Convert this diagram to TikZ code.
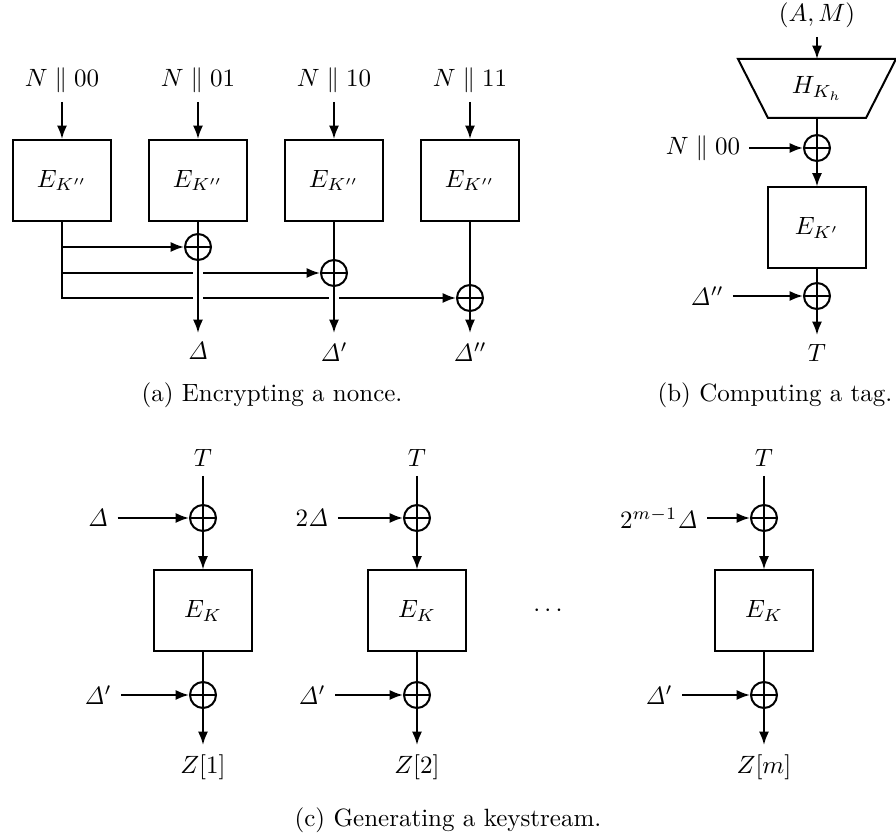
\documentclass[tikz,border=0pt]{standalone}
\usetikzlibrary{arrows.meta,calc}
\begin{document}
\begin{tikzpicture}[x=0.4pt,y=-0.4pt,
  line width=0.8pt, >={Latex[length=5.3pt,width=4pt]},
  blk/.style={draw, minimum width=39.2pt, minimum height=32.4pt, inner sep=0pt},
  xorc/.style={circle, draw, minimum size=10.4pt, inner sep=0pt,
    path picture={\draw (path picture bounding box.north) -- (path picture bounding box.south)
      (path picture bounding box.west) -- (path picture bounding box.east);}},
  lbl/.style={},
  captxt/.style={inner sep=0pt},
  gapline/.style={white, line width=4pt},
]
\useasboundingbox (0,0) rectangle (896,839);

% ---------- (a) ----------
\foreach \i/\x/\b in {1/62/00,2/198/01,3/334/10,4/470/11}{
  \node[lbl, anchor=south] (n\i) at (\x,102) {$N \parallel \b$};
  \node[blk] (e\i) at (\x,180.5) {$E_{K''}$};
  \draw[->] (n\i) -- (e\i);
}
\node[xorc] (x1) at (198,247) {};
\node[xorc] (x2) at (334,273) {};
\node[xorc] (x3) at (470,298) {};
\node[lbl, anchor=north] (d1) at (198,333) {$\mathit{\Delta}$};
\node[lbl, anchor=north] (d2) at (334,333) {$\mathit{\Delta}'$};
\node[lbl, anchor=north] (d3) at (470,333) {$\mathit{\Delta}''$};
\draw[->] (e1.south) |- (x1);
\draw[->] (e1.south) |- (x2);
\draw[->] (e1.south) |- (x3);
\draw (e2) -- (x1);
\draw (e3) -- (x2);
\draw (e4) -- (x3);
\draw[gapline, shorten <=2pt, shorten >=2pt] (x1) -- (d1);
\draw[gapline, shorten <=2pt, shorten >=2pt] (x2) -- (d2);
\draw[->] (x1) -- (d1);
\draw[->] (x2) -- (d2);
\draw[->] (x3) -- (d3);
\node[captxt] (ca) at (272,395) {(a) Encrypting a nonce.};

% ---------- (b) ----------
\node[lbl, anchor=south] (am) at (817,37) {$(A,M)$};
\node[minimum width=62.4pt, minimum height=22.8pt, inner sep=0pt] (H) at (817,88.5) {$H_{K_h}$};
\draw (H.north west) -- (H.north east) -- ($(H.south east)+(-30,0)$) -- ($(H.south west)+(30,0)$) -- cycle;
\draw[->] (am) -- (H.north);
\node[xorc] (xb1) at (817,148) {};
\node[blk] (eb) at (817,228) {$E_{K'}$};
\node[xorc] (xb2) at (817,296) {};
\node[lbl] (nb) at (703,148) {$N \parallel 00$};
\node[lbl] (db) at (707,296) {$\mathit{\Delta}''$};
\node[lbl, anchor=north] (tb) at (817,335) {$T$};
\draw[->] (nb) -- (xb1);
\draw[->] (db) -- (xb2);
\draw (H.south) -- (xb1);
\draw[->] (xb1) -- (eb);
\draw (eb) -- (xb2);
\draw[->] (xb2) -- (tb);
\node[captxt] (cb) at (775,395) {(b) Computing a tag.};

% ---------- (c) ----------
\foreach \i/\x/\l/\z in {1/203/{\mathit{\Delta}}/1,2/417/{2\mathit{\Delta}}/2,3/764/{2^{m-1}\mathit{\Delta}}/m}{
  \node[lbl, anchor=south] (t\i) at (\x,476) {$T$};
  \node[xorc] (xa\i) at (\x,518) {};
  \node[blk] (ec\i) at (\x,611) {$E_K$};
  \node[xorc] (xz\i) at (\x,695) {};
  \node[lbl, anchor=north] (z\i) at (\x,745) {$Z[\z]$};
  \node[lbl] (l\i) at (\x-105,518) {$\l$};
  \node[lbl] (p\i) at (\x-105,695) {$\mathit{\Delta}'$};
  \draw (t\i) -- (xa\i);
  \draw[->] (xa\i) -- (ec\i);
  \draw (ec\i) -- (xz\i);
  \draw[->] (xz\i) -- (z\i);
  \draw[->] (l\i) -- (xa\i);
  \draw[->] (p\i) -- (xz\i);
}
\node[lbl] (dots) at (548,611) {$\cdots$};
\node[captxt] (cc) at (448,820) {(c) Generating a keystream.};
\end{tikzpicture}
\end{document}
